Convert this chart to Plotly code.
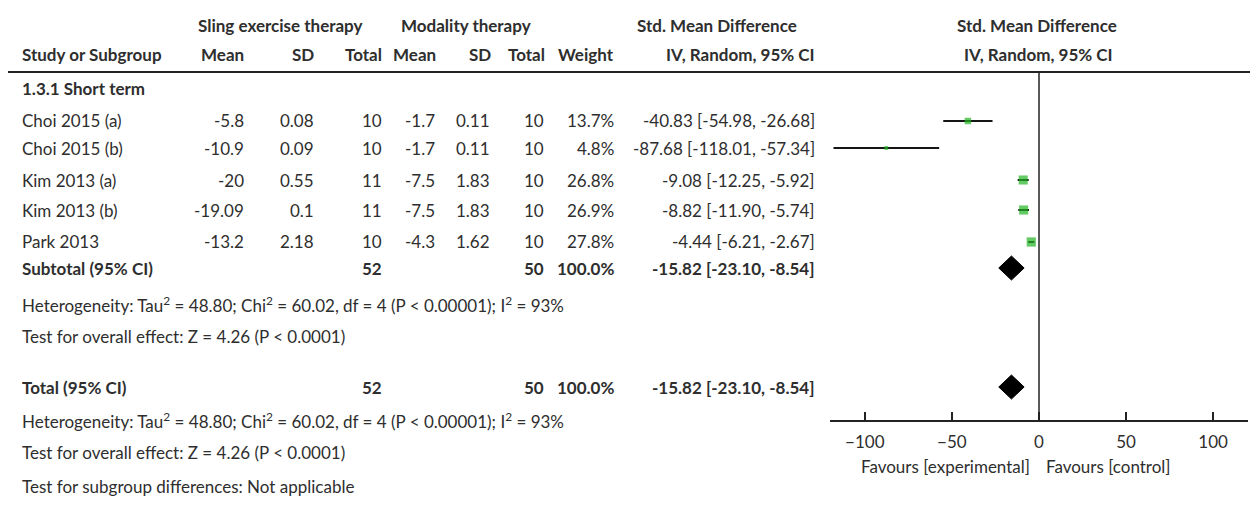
import plotly.graph_objects as go

# ---------------- data ----------------
studies = ["Choi 2015 (a)", "Choi 2015 (b)", "Kim 2013 (a)", "Kim 2013 (b)", "Park 2013"]
exp_mean = [-5.8, -10.9, -20, -19.09, -13.2]
exp_sd = [0.08, 0.09, 0.55, 0.1, 2.18]
exp_n = [10, 10, 11, 11, 10]
ctl_mean = [-1.7, -1.7, -7.5, -7.5, -4.3]
ctl_sd = [0.11, 0.11, 1.83, 1.83, 1.62]
ctl_n = [10, 10, 10, 10, 10]
weight = [13.7, 4.8, 26.8, 26.9, 27.8]
smd = [-40.83, -87.68, -9.08, -8.82, -4.44]
ci_lo = [-54.98, -118.01, -12.25, -11.90, -6.21]
ci_hi = [-26.68, -57.34, -5.92, -5.74, -2.67]
pooled_est, pooled_lo, pooled_hi = -15.82, -23.10, -8.54
total_exp, total_ctl, total_weight = 52, 50, 100.0
tick_vals = [-100, -50, 0, 50, 100]
tick_text = ["\u2212100", "\u221250", "0", "50", "100"]
het_text = "Heterogeneity: Tau<sup>2</sup> = 48.80; Chi<sup>2</sup> = 60.02, df = 4 (P < 0.00001); I<sup>2</sup> = 93%"
overall_text = "Test for overall effect: Z = 4.26 (P < 0.0001)"
subgroup_text = "Test for subgroup differences: Not applicable"

# ---------------- layout constants ----------------
OFF = 8                      # page body margin
W, H = 1258 - OFF, 513 - OFF  # figure size
FONT = "Lato, 'Open Sans', sans-serif"
FS = 17
TXT = "#2e2e2e"
AXIS_Y = 420 - OFF
row_y = [121, 148, 180, 210, 242]
subtotal_y = 268
total_y = 387

def fmt(v):
    return f"{v:g}"

def Y(py):
    return py - OFF

fig = go.Figure()
annots = []

def ann(text, px, py, anchor="left", bold=False, size=FS, color=TXT):
    if bold:
        text = f"<b>{text}</b>"
    annots.append(dict(text=text, x=(px - OFF) / W, y=1 - (py - OFF) / H,
                       xref="paper", yref="paper",
                       xanchor=anchor, yanchor="middle", showarrow=False,
                       font=dict(family=FONT, size=size, color=color)))

# headers
ann("Sling exercise therapy", 280, 25, "center", True)
ann("Modality therapy", 466, 25, "center", True)
ann("Std. Mean Difference", 717, 25, "center", True)
ann("Std. Mean Difference", 1037, 25, "center", True)
ann("Study or Subgroup", 20, 55, "left", True)
ann("Mean", 246, 55, "right", True)
ann("SD", 316, 55, "right", True)
ann("Total", 384, 55, "right", True)
ann("Mean", 438, 55, "right", True)
ann("SD", 493, 55, "right", True)
ann("Total", 547, 55, "right", True)
ann("Weight", 616, 55, "right", True)
ann("IV, Random, 95% CI", 817, 55, "right", True)
ann("IV, Random, 95% CI", 1038, 55, "center", True)

ann("1.3.1 Short term", 20, 88, "left", True)

cols = [246, 316, 384, 437, 492, 546, 616, 817]
for i, s in enumerate(studies):
    y = row_y[i]
    ann(s, 20, y)
    vals = [fmt(exp_mean[i]), fmt(exp_sd[i]), str(exp_n[i]), fmt(ctl_mean[i]), fmt(ctl_sd[i]),
            str(ctl_n[i]), f"{weight[i]:.1f}%",
            f"{smd[i]:.2f} [{ci_lo[i]:.2f}, {ci_hi[i]:.2f}]"]
    for v, cx in zip(vals, cols):
        ann(v, cx, y, "right")

ci_pooled = f"{pooled_est:.2f} [{pooled_lo:.2f}, {pooled_hi:.2f}]"
for label, y in [("Subtotal (95% CI)", subtotal_y), ("Total (95% CI)", total_y)]:
    ann(label, 20, y, "left", True)
    ann(str(total_exp), 384, y, "right", True)
    ann(str(total_ctl), 546, y, "right", True)
    ann(f"{total_weight:.1f}%", 616, y, "right", True)
    ann(ci_pooled, 817, y, "right", True)

ann(het_text, 20, 304)
ann(overall_text, 20, 336)
ann(het_text, 20, 420)
ann(overall_text, 20, 452)
ann(subgroup_text, 20, 486)

ann("Favours [experimental]", 945, 466, "center")
ann("Favours [control]", 1108, 466, "center")

# ---------------- forest marks ----------------
ys = [Y(v) for v in row_y]
fig.add_trace(go.Scatter(
    x=smd, y=ys, mode="markers",
    marker=dict(size=0.1, color="rgba(0,0,0,0)"),
    error_x=dict(type="data", symmetric=False,
                 array=[h - m for h, m in zip(ci_hi, smd)],
                 arrayminus=[m - l for m, l in zip(smd, ci_lo)],
                 color="#151515", thickness=2, width=0),
    showlegend=False, hoverinfo="skip", cliponaxis=False))
fig.add_trace(go.Scatter(
    x=smd, y=ys, mode="markers",
    marker=dict(symbol="square", size=[1.75 * w ** 0.5 for w in weight], color="#22b422",
                line=dict(width=0)),
    showlegend=False, hoverinfo="skip", cliponaxis=False))

for y in [Y(subtotal_y), Y(total_y)]:
    fig.add_trace(go.Scatter(
        x=[pooled_lo, pooled_est, pooled_hi, pooled_est, pooled_lo],
        y=[y, y - 12, y, y + 12, y], mode="lines", fill="toself",
        fillcolor="#000000", line=dict(color="#000000", width=1),
        showlegend=False, hoverinfo="skip"))

shapes = [
    dict(type="line", xref="paper", yref="y", x0=0, x1=(1250 - OFF) / W, y0=Y(72), y1=Y(72),
         line=dict(color="#222222", width=2)),
    dict(type="line", xref="x", yref="y", x0=0, x1=0, y0=Y(72), y1=AXIS_Y,
         line=dict(color="#222222", width=1.5)),
]

fig.update_layout(
    width=W, height=H, margin=dict(l=0, r=0, t=0, b=0),
    paper_bgcolor="white", plot_bgcolor="rgba(0,0,0,0)",
    annotations=annots, shapes=shapes, showlegend=False,
    xaxis=dict(domain=[(830 - OFF) / W, (1248 - OFF) / W], range=[-120, 120],
               tickvals=tick_vals, ticktext=tick_text, ticks="inside", ticklen=8,
               tickwidth=1.5, tickcolor="#222222", showline=True, linecolor="#222222",
               linewidth=1.5, showgrid=False, zeroline=False, ticklabelstandoff=6,
               tickfont=dict(family=FONT, size=FS, color=TXT), fixedrange=True),
    yaxis=dict(domain=[(H - AXIS_Y) / H, 1], range=[AXIS_Y, 0], visible=False,
               fixedrange=True),
)

fig.write_html("out.html")
